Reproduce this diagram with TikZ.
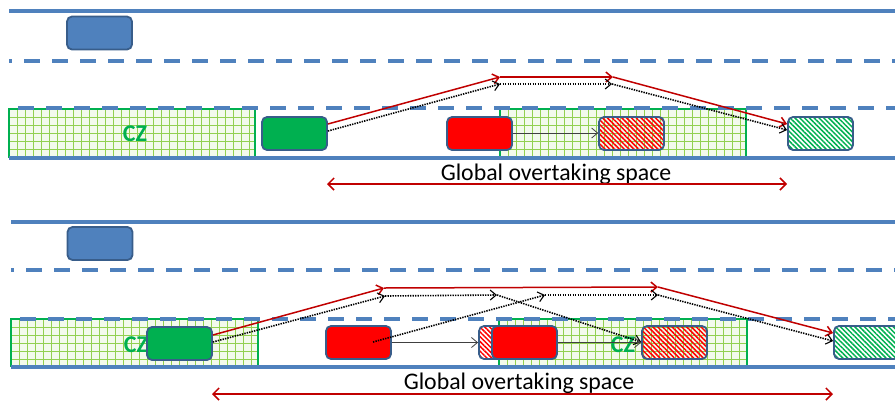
\documentclass[tikz,border=0pt]{standalone}
\usepackage{fontspec}
\setmainfont{Carlito}
\usetikzlibrary{arrows.meta,patterns.meta}
\definecolor{roadblue}{HTML}{4F81BD}
\definecolor{carborder}{HTML}{385D8A}
\definecolor{cargreen}{HTML}{00B050}
\definecolor{carred}{HTML}{FF0000}
\definecolor{arrowred}{HTML}{C00000}
\definecolor{gridgreen}{HTML}{92D050}
\definecolor{czfill}{HTML}{F3FAEC}
\definecolor{czgreen}{HTML}{00B050}
\definecolor{thingray}{HTML}{404040}
\newcommand\czgrid[4]{%
  \fill[czfill] (#1,#2) rectangle (#3,#4);
  \begin{scope}
    \clip (#1,#2) rectangle (#3,#4);
    \pgfmathsetmacro\gxa{#1+0.5}
    \pgfmathsetmacro\gxs{#1+8.5}
    \foreach \gx in {\gxa,\gxs,...,#3} \draw[gridline] (\gx,#2) -- (\gx,#4);
    \pgfmathsetmacro\gya{#2+0.5}
    \pgfmathsetmacro\gys{#2+8.5}
    \foreach \gy in {\gya,\gys,...,#4} \draw[gridline] (#1,\gy) -- (#3,\gy);
  \end{scope}
  \draw[czborder] (#1,#2) rectangle (#3,#4);}
\tikzset{
  solidroad/.style={draw=roadblue, line width=3.5pt},
  dashroad/.style={draw=roadblue, line width=4pt, dash pattern=on 16pt off 12pt},
  gridline/.style={draw=gridgreen, line width=1.1pt},
  czborder/.style={draw=czgreen, line width=1.6pt},
  car/.style={draw=carborder, line width=1.8pt, rounded corners=5pt, minimum width=65pt, minimum height=33pt, inner sep=0pt},
  bluecar/.style={car, fill=roadblue},
  greencar/.style={car, fill=cargreen},
  redcar/.style={car, fill=carred},
  redhatch/.style={car, fill=white, pattern={Lines[angle=-45, distance=3.4pt, line width=1.5pt]}, pattern color=carred},
  greenhatch/.style={car, fill=white, pattern={Lines[angle=-45, distance=3.4pt, line width=1.5pt]}, pattern color=cargreen},
  czlabel/.style={text=czgreen, font=\fontsize{24}{24}\selectfont\bfseries, inner sep=0pt},
  redpath/.style={draw=arrowred, line width=1.5pt, -{Straight Barb[length=6pt, width=10pt]}},
  dotpath/.style={draw=black, line width=1.6pt, dash pattern=on 1.4pt off 1.1pt, -{Straight Barb[length=6pt, width=10pt, line width=1.1pt]}},
  thinarrow/.style={draw=thingray, line width=0.8pt, -{Straight Barb[length=6pt, width=10pt]}},
  spanarrow/.style={draw=arrowred, line width=1.5pt, {Straight Barb[length=6pt, width=12pt]}-{Straight Barb[length=6pt, width=12pt]}},
  spantext/.style={font=\fontsize{23.8}{23.8}\selectfont, inner sep=0pt}
}
\begin{document}
\begin{tikzpicture}[x=1pt, y=-1pt]
\useasboundingbox (0,0) rectangle (895,400);
% ================= TOP PANEL =================
\czgrid{9}{109}{255}{157}
\czgrid{500}{109}{746}{157}
\node[czlabel] (cz1) at (135,134) {CZ};
\draw[solidroad] (9,11) -- (895,11);
\draw[dashroad, dash phase=13pt] (9,61) -- (895,61);
\draw[dashroad, dash phase=19pt] (9,108) -- (895,108);
\draw[solidroad] (9,158) -- (895,158);
\node[bluecar] (b1) at (99.5,33) {};
\node[greencar] (g1) at (294.5,133.5) {};
\node[redcar] (r1) at (479.5,133.5) {};
\node[redhatch] (rh1) at (631.5,133.5) {};
\node[greenhatch] (gh1) at (820.5,133.5) {};
\coordinate (ta1) at (500,77);
\coordinate (ta2) at (613,77);
\coordinate (td1) at (500,84);
\coordinate (td2) at (612,84);
\draw[redpath] ([yshift=9.5pt]g1.east) -- (ta1);
\draw[redpath] (ta1) -- (ta2);
\draw[redpath] (ta2) -- ([yshift=9.5pt]gh1.west);
\draw[dotpath] ([yshift=2.5pt]g1.east) -- (td1);
\draw[dotpath] (td1) -- (td2);
\draw[dotpath] (td2) -- ([yshift=3.5pt]gh1.west);
\draw[thinarrow] ([yshift=0.5pt]r1.east) -- ([yshift=0.5pt]rh1.west);
\node[spantext] (t1) at (556,174) {Global overtaking space};
\coordinate (s1a) at (327,184);
\coordinate (s1b) at (787,184);
\draw[spanarrow] (s1a) -- (s1b);
% ================= BOTTOM PANEL =================
\czgrid{11}{319}{258}{366}
\czgrid{499}{319}{747}{366}
\node[czlabel] (cz2) at (136,345) {CZ};
\node[czlabel] (cz3) at (623,345) {CZ};
\draw[solidroad] (11,222) -- (895,222);
\draw[dashroad, dash phase=13pt] (11,270) -- (895,270);
\draw[dashroad, dash phase=19pt] (11,319) -- (895,319);
\draw[solidroad] (11,367) -- (895,367);
\node[bluecar] (b2) at (100,243.5) {};
\node[greencar] (g2) at (179.5,343.5) {};
\node[redcar] (r2a) at (358.5,342.5) {};
\node[redhatch] (rh2a) at (511.5,342.5) {};
\node[redcar] (r2b) at (524.5,342.5) {};
\node[redhatch] (rh2) at (674.5,342.5) {};
\node[greenhatch] (gh2) at (866.5,342.5) {};
\coordinate (ba1) at (384,288);
\coordinate (ba2) at (658,287);
\coordinate (bd1) at (385,296);
\coordinate (bd2) at (497,295);
\coordinate (be0) at (373,342);
\coordinate (be1) at (545,295);
\coordinate (be2) at (658,295);
\draw[redpath] ([yshift=8.5pt]g2.east) -- (ba1);
\draw[redpath] (ba1) -- (ba2);
\draw[redpath] (ba2) -- ([yshift=9.5pt]gh2.west);
\draw[dotpath] ([yshift=1.5pt]g2.east) -- (bd1);
\draw[dotpath] (bd1) -- (bd2);
\draw[dotpath] (bd2) -- ([yshift=0.5pt]rh2.west);
\draw[dotpath] (be0) -- (be1);
\draw[dotpath] (be1) -- (be2);
\draw[dotpath] (be2) -- ([yshift=1.5pt]gh2.west);
\draw[thinarrow] (r2a.east) -- (rh2a.west);
\draw[thinarrow] (r2b.east) -- (rh2.west);
\node[spantext] (t2) at (519,383) {Global overtaking space};
\coordinate (s2a) at (212,394);
\coordinate (s2b) at (833,394);
\draw[spanarrow] (s2a) -- (s2b);
\end{tikzpicture}
\end{document}
